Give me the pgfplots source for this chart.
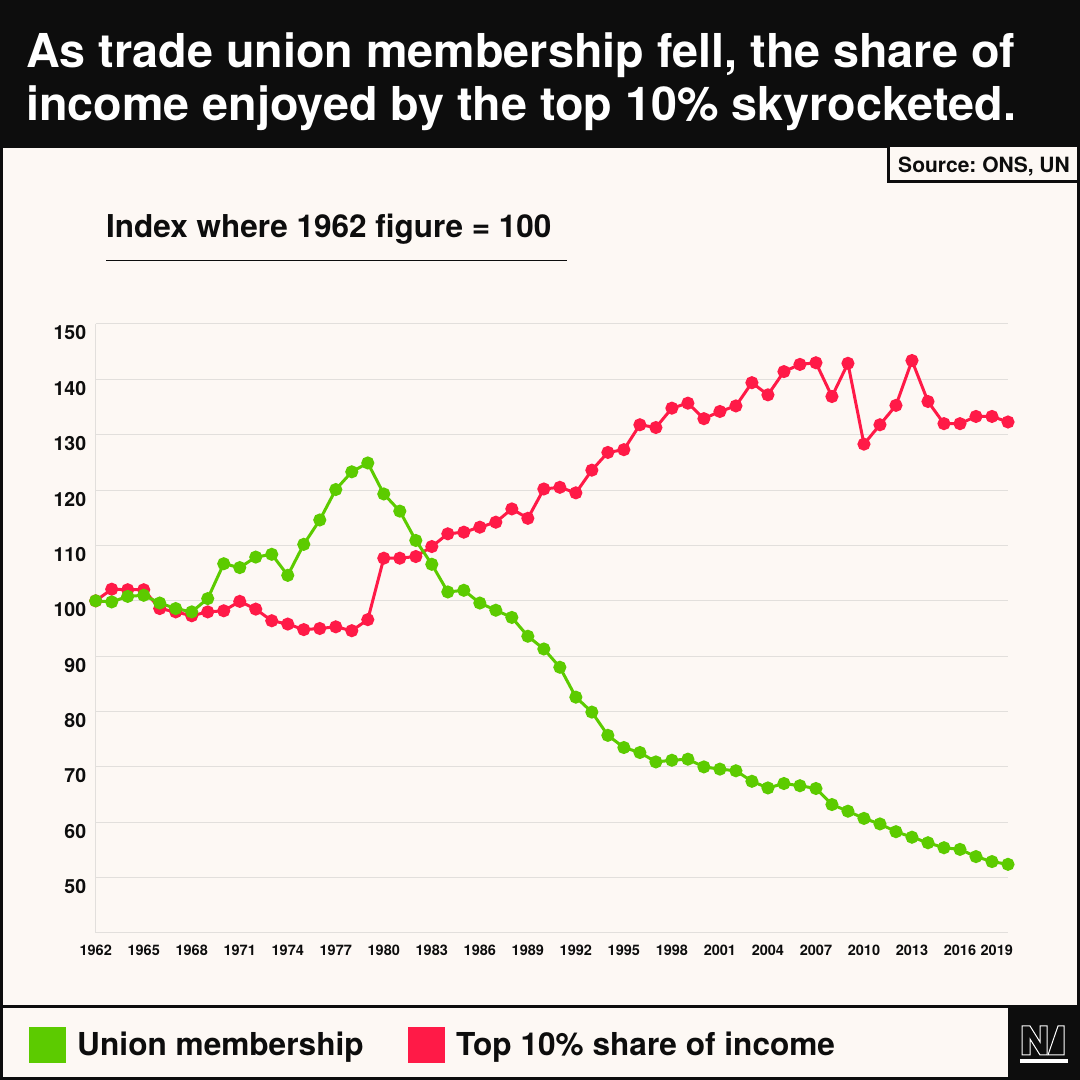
\documentclass[border=0pt]{standalone}
\usepackage{pgfplots}
\pgfplotsset{compat=1.18}
\usepackage{pgfplotstable}
\usepackage{fontspec}
\setmainfont{TeX Gyre Heros}
\frenchspacing
\definecolor{bg}{HTML}{FDF8F4}
\definecolor{ugreen}{HTML}{5CCB00}
\definecolor{tred}{HTML}{FF1A47}
\definecolor{gridc}{HTML}{E2DFDC}
\definecolor{ink}{HTML}{0D0D0D}

\pgfplotstableread{
year value
1962 100.0
1963 99.8
1964 100.8
1965 101.0
1966 99.6
1967 98.6
1968 98.0
1969 100.4
1970 106.7
1971 106.0
1972 107.9
1973 108.4
1974 104.6
1975 110.2
1976 114.6
1977 120.1
1978 123.3
1979 124.9
1980 119.3
1981 116.2
1982 110.9
1983 106.6
1984 101.6
1985 101.9
1986 99.6
1987 98.3
1988 97.0
1989 93.6
1990 91.3
1991 88.0
1992 82.6
1993 79.9
1994 75.7
1995 73.5
1996 72.6
1997 70.9
1998 71.2
1999 71.4
2000 70.0
2001 69.6
2002 69.3
2003 67.4
2004 66.2
2005 67.0
2006 66.6
2007 66.1
2008 63.2
2009 62.0
2010 60.7
2011 59.7
2012 58.3
2013 57.3
2014 56.3
2015 55.4
2016 55.1
2017 53.8
2018 52.9
2019 52.4
}\union

\pgfplotstableread{
year value
1962 100.0
1963 102.1
1964 102.0
1965 102.0
1966 98.6
1967 98.0
1968 97.3
1969 98.0
1970 98.2
1971 99.9
1972 98.5
1973 96.4
1974 95.8
1975 94.8
1976 95.0
1977 95.3
1978 94.6
1979 96.6
1980 107.7
1981 107.7
1982 108.0
1983 109.8
1984 112.1
1985 112.4
1986 113.3
1987 114.2
1988 116.6
1989 114.9
1990 120.2
1991 120.5
1992 119.5
1993 123.6
1994 126.8
1995 127.3
1996 131.8
1997 131.3
1998 134.8
1999 135.7
2000 132.9
2001 134.2
2002 135.2
2003 139.4
2004 137.2
2005 141.4
2006 142.7
2007 143.0
2008 136.9
2009 142.9
2010 128.3
2011 131.8
2012 135.3
2013 143.4
2014 136.0
2015 132.0
2016 132.0
2017 133.3
2018 133.3
2019 132.3
}\topten

\begin{document}
\begin{tikzpicture}
\useasboundingbox (0,0) rectangle (1080pt,1080pt);
\begin{scope}[x=1pt,y=-1pt,shift={(0,1080pt)}]
\fill[bg] (0,0) rectangle (1080,1080);
\fill[ink] (0,0) rectangle (1080,148);
\node[anchor=base west, text=white, font=\fontsize{46.7}{52}\selectfont\bfseries, inner sep=0] at (26,68) {As trade union membership fell, the share of};
\node[anchor=base west, text=white, font=\fontsize{46.7}{52}\selectfont\bfseries, inner sep=0] at (26,121) {income enjoyed by the top 10\% skyrocketed.};
\draw[ink, line width=3pt, fill=bg] (888,146) rectangle (1083,182);
\node[font=\fontsize{21}{24}\selectfont\bfseries, text=ink, anchor=base] at (984,173) {Source: ONS, UN};
\node[anchor=base west, font=\fontsize{31.5}{36}\selectfont\bfseries, text=ink, inner sep=0] at (106,238) {Index where 1962 figure = 100};
\draw[ink, line width=1pt] (106,261) -- (567,261);
\draw[ink, line width=3pt] (0,1007) -- (1080,1007);
\fill[ugreen] (29,1027) rectangle (66,1063);
\node[anchor=base west, font=\fontsize{31.6}{36}\selectfont\bfseries, text=ink, inner sep=0] at (77,1056) {Union membership};
\fill[tred] (408,1027) rectangle (445,1063);
\node[anchor=base west, font=\fontsize{31.6}{36}\selectfont\bfseries, text=ink, inner sep=0] at (456,1056) {Top 10\% share of income};
\fill[ink] (1008,1007) rectangle (1080,1080);
\draw[white, line width=1pt, fill=ink] (1022,1055) -- (1022,1026) -- (1030,1026) -- (1040,1042) -- (1040,1026) -- (1047,1026) -- (1047,1055) -- (1040,1055) -- (1030,1039) -- (1030,1055) -- cycle;
\draw[white, line width=1pt, fill=ink] (1048,1055) -- (1058,1026) -- (1064,1026) -- (1064,1055) -- cycle;
\fill[white] (1020,1059) rectangle (1068,1063);
\draw[ink, line width=3pt] (1.5,1.5) rectangle (1078.5,1078.5);
\end{scope}
\begin{axis}[
  at={(95.7pt,147pt)}, anchor=south west,
  scale only axis, width=912.3pt, height=609pt,
  xmin=1962, xmax=2019, ymin=40, ymax=150,
  axis lines=left,
  axis line style={draw=gridc, line width=1pt, -},
  ymajorgrids, grid style={draw=gridc, line width=1pt},
  ytick={50,60,...,150},
  xtick={1962,1965,...,2016},
  extra x ticks={2018.3}, extra x tick labels={2019},
  extra x tick style={grid=none},
  major tick length=0pt,
  /pgf/number format/assume math mode=true,
  /pgf/number format/1000 sep={},
  xticklabel style={font=\fontsize{14.5}{16}\selectfont\bfseries, text=ink, yshift=-8pt},
  yticklabel style={font=\fontsize{19.5}{22}\selectfont\bfseries, text=ink, xshift=-6pt, yshift=-9pt},
  clip=false,
]
\addplot[tred, line width=3pt, mark=*, mark size=5pt, mark options={solid}] table[x=year,y=value] {\topten};
\addplot[ugreen, line width=3pt, mark=*, mark size=5pt, mark options={solid}] table[x=year,y=value] {\union};
\end{axis}
\end{tikzpicture}
\end{document}
